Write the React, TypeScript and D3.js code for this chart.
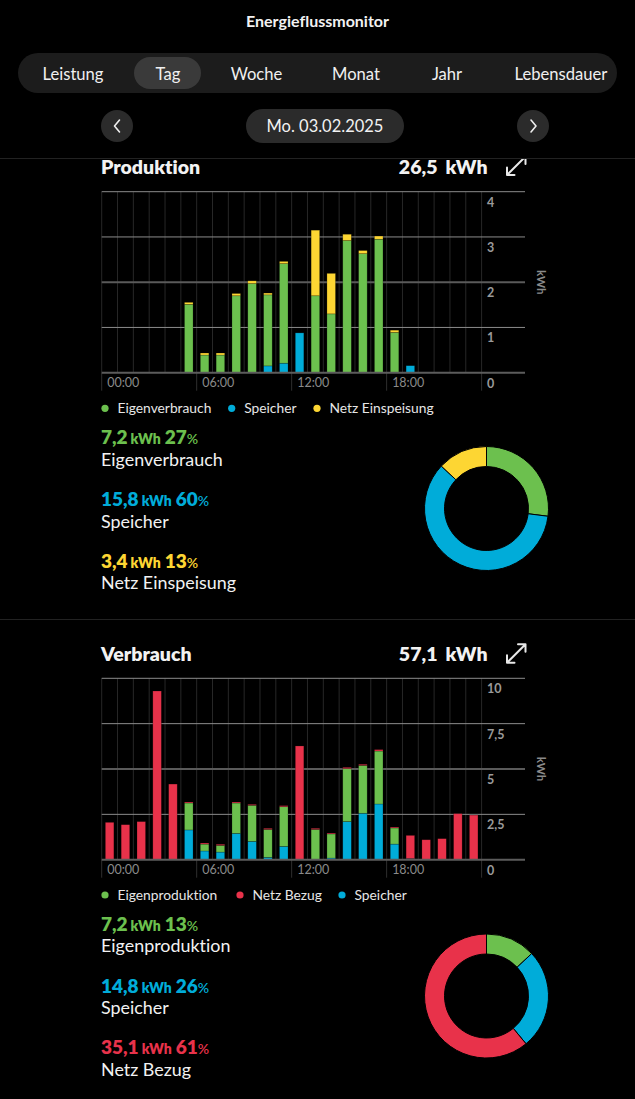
import React from "react";
import * as d3 from "d3";

// ---------- DATA ----------
const hours = d3.range(24);
const xTickLabels = ["00:00", "06:00", "12:00", "18:00"];
const xTickHours = [0, 6, 12, 18];

// Produktion (kWh per hour), stacked bottom->top: Speicher, Eigenverbrauch, Netz Einspeisung
const prodSpeicher = [0, 0, 0, 0, 0, 0, 0, 0, 0, 0, 0.15, 0.21, 0.88, 0, 0, 0, 0, 0, 0, 0.155, 0, 0, 0, 0];
const prodEigen = [0, 0, 0, 0, 0, 1.51, 0.39, 0.39, 1.7, 1.97, 1.57, 2.2, 0, 1.7, 1.3, 2.92, 2.63, 2.95, 0.89, 0, 0, 0, 0, 0];
const prodNetz = [0, 0, 0, 0, 0, 0.045, 0.045, 0.045, 0.05, 0.06, 0.04, 0.05, 0, 1.45, 0.895, 0.14, 0.07, 0.07, 0.05, 0, 0, 0, 0, 0];
const prodTicks = [0, 1, 2, 3, 4];
const prodTickLabels = ["0", "1", "2", "3", "4"];

// Verbrauch (kWh per hour), stacked bottom->top: Speicher, Eigenproduktion, Netz Bezug
const consSpeicher = [0, 0, 0, 0, 0, 1.64, 0.48, 0.42, 1.45, 1.01, 0.13, 0.735, 0, 0, 0.09, 2.1, 2.56, 3.07, 0.86, 0.06, 0, 0, 0, 0];
const consEigen = [0, 0, 0, 0, 0, 1.485, 0.38, 0.37, 1.675, 1.99, 1.54, 2.185, 0, 1.67, 1.33, 2.92, 2.64, 2.92, 0.89, 0, 0, 0, 0, 0];
const consNetz = [2.06, 1.93, 2.1, 9.3, 4.17, 0.055, 0.06, 0.06, 0.055, 0.05, 0.06, 0.06, 6.27, 0.06, 0.05, 0.07, 0.06, 0.08, 0.05, 1.28, 1.1, 1.16, 2.54, 2.46];
const consTicks = [0, 2.5, 5, 7.5, 10];
const consTickLabels = ["0", "2,5", "5", "7,5", "10"];

// Summaries
const prodTotal = "26,5";
const consTotal = "57,1";
const prodNames = ["Eigenverbrauch", "Speicher", "Netz Einspeisung"];
const prodKwh = ["7,2", "15,8", "3,4"];
const prodPct = [27, 60, 13];
const consNames = ["Eigenproduktion", "Speicher", "Netz Bezug"];
const consKwh = ["7,2", "14,8", "35,1"];
const consPct = [13, 26, 61];
const consLegend = ["Eigenproduktion", "Netz Bezug", "Speicher"];

const tabs = ["Leistung", "Tag", "Woche", "Monat", "Jahr", "Lebensdauer"];
const dateLabel = "Mo. 03.02.2025";

// ---------- STYLE ----------
const GREEN = "#6cc04e";
const BLUE = "#00acd9";
const YELLOW = "#fdd633";
const RED = "#e8324a";
const FONT = "Lato, 'Open Sans', sans-serif";

type Layer = { values: number[]; color: string };

function BarChart({
  top,
  bottom,
  max,
  ticks,
  tickLabels,
  layers,
}: {
  top: number;
  bottom: number;
  max: number;
  ticks: number[];
  tickLabels: string[];
  layers: Layer[];
}) {
  const x0 = 101.7;
  const x1 = 481.6;
  const gridRight = 525;
  const x = d3.scaleBand<number>().domain(hours).range([x0, x1]).paddingInner(0.46).paddingOuter(0.23);
  const y = d3.scaleLinear().domain([0, max]).range([bottom, top]);
  const step = x.step();
  const stackData = hours.map((h) => {
    const o: any = { h };
    layers.forEach((l, i) => (o["k" + i] = l.values[h]));
    return o;
  });
  const stack = d3.stack<any>().keys(layers.map((_, i) => "k" + i))(stackData);
  const mid = ticks[Math.floor(ticks.length / 2)];
  return (
    <g>
      {d3.range(25).map((i) => (
        <line key={"v" + i} x1={x0 + i * step} x2={x0 + i * step} y1={top} y2={bottom} stroke="#272727" strokeWidth={1} />
      ))}
      {[...xTickHours, 24].map((h) => (
        <line key={"t" + h} x1={x0 + h * step} x2={x0 + h * step} y1={bottom} y2={bottom + 18} stroke="#2e2e2e" strokeWidth={1} />
      ))}
      {ticks.map((t, i) =>
        t === 0 ? null : (
          <line
            key={"h" + i}
            x1={x0}
            x2={gridRight}
            y1={y(t)}
            y2={y(t)}
            stroke={t === mid ? "#5a5a5a" : "#8c8c8c"}
            strokeWidth={t === mid ? 2 : 1}
          />
        )
      )}
      {stack.map((s, li) =>
        s.map((d, hi) =>
          d[1] - d[0] > 0 ? (
            <rect
              key={li + "-" + hi}
              x={x(hi)}
              width={x.bandwidth()}
              y={y(d[1])}
              height={y(d[0]) - y(d[1])}
              fill={layers[li].color}
              stroke="rgba(0,0,0,0.35)"
              strokeWidth={0.6}
            />
          ) : null
        )
      )}
      <line x1={x0} x2={gridRight} y1={bottom} y2={bottom} stroke="#5c5c5c" strokeWidth={2} />
      {xTickHours.map((h, i) => (
        <text key={"xl" + h} x={x0 + h * step + 5.5} y={bottom + 14.5} fill="#8a8a8a" fontSize={12.5} fontFamily={FONT}>
          {xTickLabels[i]}
        </text>
      ))}
      {ticks.map((t, i) => (
        <text key={"yl" + i} x={487} y={y(t) + 15} fill="#9a9a9a" fontSize={12.5} fontWeight={700} fontFamily={FONT}>
          {tickLabels[i]}
        </text>
      ))}
      <text
        transform={`translate(537,${(top + bottom) / 2}) rotate(90)`}
        textAnchor="middle"
        fill="#8a8a8a"
        fontSize={11.5}
        fontWeight={700}
        fontFamily={FONT}
      >
        kWh
      </text>
    </g>
  );
}

function Donut({ cx, cy, values, colors }: { cx: number; cy: number; values: number[]; colors: string[] }) {
  const pie = d3.pie<number>().sort(null).value((d) => d)(values);
  const arc = d3.arc<d3.PieArcDatum<number>>().innerRadius(42).outerRadius(62);
  return (
    <g transform={`translate(${cx},${cy})`}>
      {pie.map((p, i) => (
        <path key={i} d={arc(p) || ""} fill={colors[i]} stroke="#000" strokeWidth={1} />
      ))}
    </g>
  );
}

function Stat({ y, kwh, pct, name, color }: { y: number; kwh: string; pct: number; name: string; color: string }) {
  return (
    <g fontFamily={FONT}>
      <text x={101} y={y} fill={color} fontWeight={800}>
        <tspan fontSize={19}>{kwh}</tspan>
        <tspan fontSize={14} dx={3}>kWh</tspan>
        <tspan fontSize={19} dx={4}>{pct}</tspan>
        <tspan fontSize={14} fontWeight={600}>%</tspan>
      </text>
      <text x={101} y={y + 21.7} fill="#f2f2f2" fontSize={17.9}>
        {name}
      </text>
    </g>
  );
}

function Legend({ y, items, xs }: { y: number; items: { label: string; color: string }[]; xs: number[] }) {
  return (
    <g fontFamily={FONT}>
      {items.map((it, i) => (
        <g key={i}>
          <circle cx={xs[i]} cy={y} r={3.6} fill={it.color} />
          <text x={xs[i] + 12.5} y={y + 4.8} fill="#e6e6e6" fontSize={13.8}>
            {it.label}
          </text>
        </g>
      ))}
    </g>
  );
}

function ExpandIcon({ x, y }: { x: number; y: number }) {
  // bottom-left at (x,y), top-right at (x+19,y-19)
  const s = 18.5;
  const h = 7.5;
  const p = `M${x + 1} ${y - 1} L${x + s - 1} ${y - s + 1} M${x} ${y - h} L${x} ${y} L${x + h} ${y} M${x + s - h} ${y - s} L${x + s} ${y - s} L${x + s} ${y - s + h}`;
  return <path d={p} fill="none" stroke="#e8e8e8" strokeWidth={2} strokeLinecap="round" strokeLinejoin="round" />;
}

export default function App() {
  const tabCenters = [73, 168, 256.5, 356, 447, 561];
  return (
    <svg
      width={635}
      height={1099}
      style={{ position: "absolute", left: 0, top: 0, display: "block", fontVariantLigatures: "none" }}
      fontFamily={FONT}
    >
      <defs>
        <clipPath id="clipTop">
          <rect x={0} y={159} width={635} height={940} />
        </clipPath>
      </defs>
      <rect x={0} y={0} width={635} height={1099} fill="#000" />
      {/* Title */}
      <text x={317.5} y={27} textAnchor="middle" fill="#f2f2f2" fontSize={16} fontWeight={700}>
        Energieflussmonitor
      </text>
      {/* Tabs */}
      <rect x={18} y={53} width={599} height={40} rx={20} fill="#1c1c1c" />
      <rect x={134} y={57} width={67} height={32} rx={16} fill="#3a3a3a" />
      {tabs.map((t, i) => (
        <text key={t} x={tabCenters[i]} y={79.5} textAnchor="middle" fill="#f0f0f0" fontSize={16.6}>
          {t}
        </text>
      ))}
      {/* Date row */}
      <circle cx={117} cy={126} r={16} fill="#2b2b2b" />
      <path d="M119.5 120 L114.5 126 L119.5 132" fill="none" stroke="#eee" strokeWidth={1.6} strokeLinecap="round" strokeLinejoin="round" />
      <rect x={246} y={109} width={158} height={34} rx={17} fill="#2b2b2b" />
      <text x={325} y={132} textAnchor="middle" fill="#f2f2f2" fontSize={16.5}>
        {dateLabel}
      </text>
      <circle cx={533} cy={126} r={16} fill="#2b2b2b" />
      <path d="M531 120 L536 126 L531 132" fill="none" stroke="#eee" strokeWidth={1.6} strokeLinecap="round" strokeLinejoin="round" />
      <line x1={0} x2={635} y1={158.5} y2={158.5} stroke="#222" strokeWidth={1} />

      {/* Produktion */}
      <text x={101} y={174} fill="#f2f2f2" fontSize={19.5} fontWeight={800}>
        Produktion
      </text>
      <text x={487.5} y={174} textAnchor="end" fill="#f2f2f2" fontSize={19.5} fontWeight={800}>
        {prodTotal}
        <tspan dx={8}>kWh</tspan>
      </text>
      <g clipPath="url(#clipTop)">
        <ExpandIcon x={507} y={175} />
      </g>
      <BarChart
        top={191.7}
        bottom={372.7}
        max={4}
        ticks={prodTicks}
        tickLabels={prodTickLabels}
        layers={[
          { values: prodSpeicher, color: BLUE },
          { values: prodEigen, color: GREEN },
          { values: prodNetz, color: YELLOW },
        ]}
      />
      <Legend
        y={408.3}
        xs={[105, 231.7, 317]}
        items={[
          { label: prodNames[0], color: GREEN },
          { label: prodNames[1], color: BLUE },
          { label: prodNames[2], color: YELLOW },
        ]}
      />
      <Stat y={444} kwh={prodKwh[0]} pct={prodPct[0]} name={prodNames[0]} color={GREEN} />
      <Stat y={506} kwh={prodKwh[1]} pct={prodPct[1]} name={prodNames[1]} color={BLUE} />
      <Stat y={567.7} kwh={prodKwh[2]} pct={prodPct[2]} name={prodNames[2]} color={YELLOW} />
      <Donut cx={486.5} cy={508.5} values={prodPct} colors={[GREEN, BLUE, YELLOW]} />

      <line x1={0} x2={635} y1={619.5} y2={619.5} stroke="#222" strokeWidth={1} />

      {/* Verbrauch */}
      <text x={101} y={660.7} fill="#f2f2f2" fontSize={19.5} fontWeight={800}>
        Verbrauch
      </text>
      <text x={487.5} y={660.7} textAnchor="end" fill="#f2f2f2" fontSize={19.5} fontWeight={800}>
        {consTotal}
        <tspan dx={8}>kWh</tspan>
      </text>
      <ExpandIcon x={507} y={662.7} />
      <BarChart
        top={678.3}
        bottom={859.7}
        max={10}
        ticks={consTicks}
        tickLabels={consTickLabels}
        layers={[
          { values: consSpeicher, color: BLUE },
          { values: consEigen, color: GREEN },
          { values: consNetz, color: RED },
        ]}
      />
      <Legend
        y={895}
        xs={[105, 240, 342]}
        items={[
          { label: consLegend[0], color: GREEN },
          { label: consLegend[1], color: RED },
          { label: consLegend[2], color: BLUE },
        ]}
      />
      <Stat y={930.7} kwh={consKwh[0]} pct={consPct[0]} name={consNames[0]} color={GREEN} />
      <Stat y={992.7} kwh={consKwh[1]} pct={consPct[1]} name={consNames[1]} color={BLUE} />
      <Stat y={1054.3} kwh={consKwh[2]} pct={consPct[2]} name={consNames[2]} color={RED} />
      <Donut cx={486.5} cy={996} values={consPct} colors={[GREEN, BLUE, RED]} />
    </svg>
  );
}
